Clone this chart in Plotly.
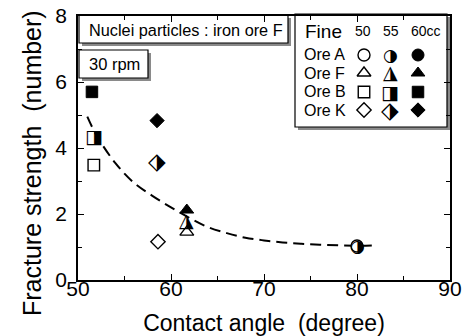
import plotly.graph_objects as go

W, H = 466, 336
L, R, T, B = 78, 16, 16, 56
PW, PH = W - L - R, H - T - B

def px(x):
    return (x - L) / PW

def py(y):
    return (H - B - y) / PH

# ---- data (contact angle, fracture strength) ----
oreA_x = {"50": [80.0], "55": [80.1], "60": []}
oreA_y = {"50": [1.03], "55": [1.03], "60": []}
oreF_x = {"50": [61.7], "55": [61.7], "60": [61.7]}
oreF_y = {"50": [1.45], "55": [1.78], "60": [2.12]}
oreB_x = {"50": [51.7], "55": [51.7], "60": [51.5]}
oreB_y = {"50": [3.48], "55": [4.36], "60": [5.7]}
oreK_x = {"50": [58.6], "55": [58.5], "60": [58.5]}
oreK_y = {"50": [1.16], "55": [3.6], "60": [4.83]}

curve_x = [51, 52, 54, 56, 58, 60, 62, 64, 66, 68, 70, 72, 74, 76, 78, 80, 82]
curve_y = [4.95, 4.38, 3.55, 2.95, 2.55, 2.2, 1.88, 1.6, 1.42, 1.28, 1.2, 1.14, 1.1, 1.07, 1.05, 1.04, 1.05]

x_ticks = [50, 60, 70, 80, 90]
y_ticks = [0, 2, 4, 6, 8]

ores = ["Ore A", "Ore F", "Ore B", "Ore K"]
fine_labels = ["50", "55", "60cc"]

# ---- styles ----
symbols = {"Ore A": "circle", "Ore F": "triangle-up", "Ore B": "square", "Ore K": "diamond"}
msize = {"Ore A": 12, "Ore F": 12, "Ore B": 11.5, "Ore K": 11}
GLYPH_FONT = "DejaVu Sans"
half_glyph = {"Ore A": "◑", "Ore F": "◮", "Ore B": "◨", "Ore K": "⬗"}
half_size = {"Ore A": 17, "Ore F": 19, "Ore B": 19, "Ore K": 23}
half_shift = {"Ore A": 0, "Ore F": 1, "Ore B": 0, "Ore K": 0}

fig = go.Figure()

fig.add_trace(go.Scatter(x=curve_x, y=curve_y, mode="lines",
                         line=dict(color="black", width=2, dash="11px,6px", shape="spline"),
                         hoverinfo="skip", showlegend=False))

data = {"Ore A": (oreA_x, oreA_y), "Ore F": (oreF_x, oreF_y),
        "Ore B": (oreB_x, oreB_y), "Ore K": (oreK_x, oreK_y)}

ann = []

def open_marker(ore):
    return dict(symbol=symbols[ore], size=msize[ore], color="white",
                line=dict(color="black", width=1.4))

def full_marker(ore):
    return dict(symbol=symbols[ore], size=msize[ore], color="black",
                line=dict(color="black", width=1))

for ore in ores:
    xs, ys = data[ore]
    if xs["50"]:
        fig.add_trace(go.Scatter(x=xs["50"], y=ys["50"], mode="markers", marker=open_marker(ore),
                                 showlegend=False, hoverinfo="skip"))
    if xs["60"]:
        fig.add_trace(go.Scatter(x=xs["60"], y=ys["60"], mode="markers", marker=full_marker(ore),
                                 showlegend=False, hoverinfo="skip"))
    for xv, yv in zip(xs["55"], ys["55"]):
        ann.append(dict(xref="x", yref="y", x=xv, y=yv, text=half_glyph[ore], showarrow=False,
                        xanchor="center", yanchor="middle", yshift=half_shift[ore],
                        font=dict(family=GLYPH_FONT, size=half_size[ore], color="black")))

# legend glyphs on overlay pixel axes
leg_cols = [364, 390, 418]
leg_rows = [55, 73, 92, 110]
for r, ore in enumerate(ores):
    fig.add_trace(go.Scatter(x=[leg_cols[0]], y=[leg_rows[r]], mode="markers", marker=open_marker(ore),
                             xaxis="x2", yaxis="y2", showlegend=False, hoverinfo="skip"))
    fig.add_trace(go.Scatter(x=[leg_cols[2]], y=[leg_rows[r]], mode="markers", marker=full_marker(ore),
                             xaxis="x2", yaxis="y2", showlegend=False, hoverinfo="skip"))
    ann.append(dict(xref="x2", yref="y2", x=leg_cols[1], y=leg_rows[r], text=half_glyph[ore],
                    showarrow=False, xanchor="center", yanchor="middle", yshift=half_shift[ore],
                    font=dict(family=GLYPH_FONT, size=half_size[ore], color="black")))

shapes = []
def box(x0, y0, x1, y1):
    shapes.append(dict(type="rect", xref="paper", yref="paper",
                       x0=px(x0 + 3), x1=px(x1 + 3), y0=py(y1 + 3), y1=py(y0 + 3),
                       fillcolor="#8a8a8a", line=dict(width=0), layer="below"))
    shapes.append(dict(type="rect", xref="paper", yref="paper",
                       x0=px(x0), x1=px(x1), y0=py(y1), y1=py(y0),
                       fillcolor="white", line=dict(color="black", width=1.2), layer="below"))

box(79, 15, 288, 43)
box(79, 50, 148, 78)
box(295, 14, 447, 127)

fnt = "Liberation Sans, Arial, sans-serif"
def text(x, y, s, size, anchor="center", angle=0):
    ann.append(dict(xref="paper", yref="paper", x=px(x), y=py(y), text=s, showarrow=False,
                    xanchor=anchor, yanchor="middle", textangle=angle,
                    font=dict(family=fnt, size=size, color="black")))

text(87, 30, "Nuclei particles : iron ore F", 16.3, "left")
text(87, 64, "30 rpm", 16.5, "left")
text(303, 32, "Fine", 19, "left")
text(363, 31, "50", 14)
text(391, 31, "55", 14)
text(409, 31, "60cc", 14, "left")
for r, ore in enumerate(ores):
    text(302, leg_rows[r], ore, 16, "left")
# y axis title
text(32, 163, "Fracture strength\u00a0 (number)", 25, "center", -90)

fig.update_layout(
    template="none",
    width=W, height=H, margin=dict(l=L, r=R, t=T, b=B, pad=0),
    paper_bgcolor="white", plot_bgcolor="rgba(0,0,0,0)",
    shapes=shapes, annotations=ann, showlegend=False,
    font=dict(family=fnt, color="black"),
    xaxis=dict(range=[50, 90], tickvals=x_ticks, ticktext=[str(v) for v in x_ticks],
               ticks="inside", ticklen=6, tickwidth=1.2, tickcolor="black",
               minor=dict(dtick=5, tick0=50, ticks="inside", ticklen=4, tickcolor="black", showgrid=False),
               showline=True, linecolor="black", linewidth=1.5, mirror="ticks", automargin=False,
               showgrid=False, zeroline=False, tickfont=dict(size=21), ticklabelstandoff=-11,
               title=dict(text="Contact angle\u00a0 (degree)", font=dict(size=23), standoff=16)),
    yaxis=dict(range=[0, 8], tickvals=y_ticks, ticktext=[str(v) for v in y_ticks],
               ticks="inside", ticklen=6, tickwidth=1.2, tickcolor="black",
               minor=dict(dtick=1, tick0=0, ticks="inside", ticklen=4, tickcolor="black", showgrid=False),
               showline=True, linecolor="black", linewidth=1.5, mirror="ticks", automargin=False,
               showgrid=False, zeroline=False, tickfont=dict(size=21), ticklabelstandoff=5),
    xaxis2=dict(range=[L, W - R], overlaying="x", visible=False, fixedrange=True, automargin=False),
    yaxis2=dict(range=[H - B, T], overlaying="y", visible=False, fixedrange=True, automargin=False),
)

fig.write_html("out.html", config={"displayModeBar": False},
               post_script="document.body.style.margin='0';")
